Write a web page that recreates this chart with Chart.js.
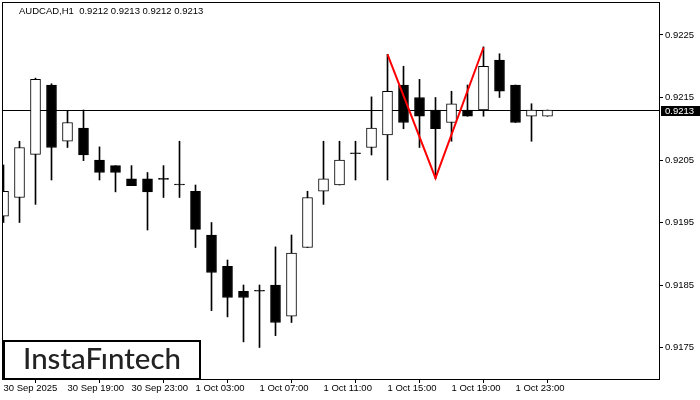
<!DOCTYPE html>
<html>
<head>
<meta charset="utf-8">
<script src="https://cdn.jsdelivr.net/npm/chart.js@4.4.1/dist/chart.umd.min.js"></script>
<style>
html, body { margin: 0; padding: 0; background: #fff; }
canvas { display: block; }
</style>
</head>
<body>
<canvas id="chart" width="700" height="400"></canvas>
<script>
// AUDCAD H1, one bar per hour starting 30 Sep 15:00
var opens  = [0.91960, 0.91990, 0.92059, 0.92170, 0.92080, 0.92101, 0.92050, 0.92041, 0.92020, 0.92020,
              0.92019, 0.92010, 0.92000, 0.91930, 0.91880, 0.91840, 0.91840, 0.91850, 0.91800, 0.91910,
              0.92000, 0.92010, 0.92060, 0.92070, 0.92090, 0.92170, 0.92150, 0.92130, 0.92110, 0.92130,
              0.92130, 0.92210, 0.92170, 0.92120, 0.92120];
var highs  = [0.92042, 0.92080, 0.92181, 0.92172, 0.92129, 0.92130, 0.92071, 0.92041, 0.92041, 0.92030,
              0.92041, 0.92080, 0.92010, 0.91950, 0.91890, 0.91850, 0.91850, 0.91911, 0.91930, 0.92000,
              0.92080, 0.92080, 0.92080, 0.92151, 0.92219, 0.92200, 0.92179, 0.92150, 0.92160, 0.92170,
              0.92231, 0.92220, 0.92170, 0.92140, 0.92130];
var lows   = [0.91950, 0.91950, 0.91979, 0.92018, 0.92070, 0.92049, 0.92018, 0.91999, 0.92009, 0.91938,
              0.91990, 0.91990, 0.91910, 0.91809, 0.91799, 0.91759, 0.91750, 0.91769, 0.91790, 0.91910,
              0.91979, 0.92010, 0.92018, 0.92058, 0.92018, 0.92100, 0.92070, 0.92020, 0.92080, 0.92120,
              0.92120, 0.92150, 0.92110, 0.92080, 0.92120];
var closes = [0.92000, 0.92070, 0.92179, 0.92070, 0.92110, 0.92058, 0.92030, 0.92030, 0.92009, 0.91999,
              0.92019, 0.92010, 0.91939, 0.91870, 0.91830, 0.91830, 0.91840, 0.91790, 0.91901, 0.91990,
              0.92020, 0.92050, 0.92060, 0.92101, 0.92160, 0.92110, 0.92120, 0.92100, 0.92140, 0.92120,
              0.92200, 0.92160, 0.92110, 0.92130, 0.92130];

var xTickIndex  = [0, 4, 8, 12, 16, 20, 24, 28, 32];
var xTickLabels = ['30 Sep 2025', '30 Sep 19:00', '30 Sep 23:00', '1 Oct 03:00', '1 Oct 07:00',
                   '1 Oct 11:00', '1 Oct 15:00', '1 Oct 19:00', '1 Oct 23:00'];
var yTicks = [0.9175, 0.9185, 0.9195, 0.9205, 0.9215, 0.9225];

// double top (red zig-zag)
var patternIndex = [24, 27, 30];
var patternPrice = [0.92219, 0.92021, 0.92230];

var symbol = 'AUDCAD,H1';
var priceLine = 0.9213;

var xMin = -0.09375, xMax = 41.03125;
var yMin = 0.916996, yMax = 0.923028;
var tickFont = { family: '"Liberation Sans", Arial, sans-serif', size: 9.5 };

var last = closes.length - 1;

// price line behind the candles
var priceLinePlugin = {
    id: 'priceLine',
    beforeDatasetsDraw: function(chart) {
        var ctx = chart.ctx;
        var a = chart.chartArea;
        var yp = Math.round(chart.scales.y.getPixelForValue(priceLine)) + 0.5;
        ctx.save();
        ctx.strokeStyle = '#000';
        ctx.lineWidth = 1;
        ctx.beginPath();
        ctx.moveTo(a.left, yp);
        ctx.lineTo(a.right, yp);
        ctx.stroke();
        ctx.restore();
    }
};

// frame, header, logo and the price label
var overlay = {
    id: 'overlay',
    afterDraw: function(chart) {
        var ctx = chart.ctx;
        var a = chart.chartArea;
        ctx.save();

        ctx.strokeStyle = '#000';
        ctx.lineWidth = 1;
        ctx.strokeRect(a.left + 0.5, a.top + 0.5, a.right - a.left - 1, a.bottom - a.top);

        ctx.fillStyle = '#000';
        ctx.font = '9.5px "Liberation Sans", Arial, sans-serif';
        ctx.textBaseline = 'alphabetic';
        ctx.textAlign = 'left';
        var ohlc = [opens[last], highs[last], lows[last], closes[last]].map(function(v) { return v.toFixed(4); });
        ctx.fillText(symbol + '  ' + ohlc.join(' '), 19, 14);

        // logo box
        ctx.fillStyle = '#fff';
        ctx.fillRect(3, 340, 198, 39);
        ctx.lineWidth = 2;
        ctx.strokeRect(4, 341, 196, 38);
        ctx.fillStyle = '#222';
        ctx.font = '500 28px Lato, sans-serif';
        var w = ctx.measureText('InstaFıntech').width;
        var size = 28 * 158 / w;
        ctx.font = '500 ' + size.toFixed(2) + 'px Lato, sans-serif';
        ctx.fillText('InstaFıntech', 23, 369);

        // current price label
        var yp = Math.round(chart.scales.y.getPixelForValue(closes[last]));
        ctx.fillStyle = '#000';
        ctx.fillRect(661, yp - 4, 39, 10);
        ctx.fillStyle = '#fff';
        ctx.font = '9.5px "Liberation Sans", Arial, sans-serif';
        ctx.textBaseline = 'middle';
        ctx.fillText(closes[last].toFixed(4), 665, yp + 1);

        ctx.restore();
    }
};

var wickData = opens.map(function(o, i) { return { x: i, y: [lows[i], highs[i]] }; });
var bodyData = opens.map(function(o, i) { return { x: i, y: [opens[i], closes[i]] }; });
// bull = white, bear and doji = black
var bodyColors = opens.map(function(o, i) { return closes[i] > opens[i] ? '#fff' : '#000'; });

var ctx = document.getElementById('chart').getContext('2d');
var chart = new Chart(ctx, {
    type: 'bar',
    data: {
        datasets: [
            {
                data: wickData,
                backgroundColor: '#000',
                barThickness: 1,
                grouped: false,
                order: 3
            },
            {
                data: bodyData,
                backgroundColor: bodyColors,
                borderColor: '#000',
                borderWidth: 1,
                borderSkipped: false,
                barThickness: 10,
                minBarLength: 1,
                grouped: false,
                order: 2
            },
            {
                type: 'line',
                data: patternIndex.map(function(x, k) { return { x: x, y: patternPrice[k] }; }),
                borderColor: '#ff0000',
                borderWidth: 2,
                pointRadius: 0,
                order: 0
            }
        ]
    },
    options: {
        responsive: false,
        animation: false,
        layout: { padding: { left: 2, top: 2, right: 0, bottom: 0 } },
        plugins: {
            legend: { display: false },
            tooltip: { enabled: false }
        },
        scales: {
            x: {
                type: 'linear',
                min: xMin,
                max: xMax,
                offset: false,
                border: { display: false },
                grid: { display: true, drawOnChartArea: false, drawTicks: true, tickLength: 4, color: '#000' },
                ticks: {
                    autoSkip: false,
                    maxRotation: 0,
                    align: 'start',
                    padding: 0,
                    color: '#000',
                    font: tickFont,
                    callback: function(v) {
                        var k = xTickIndex.indexOf(v);
                        return k >= 0 ? xTickLabels[k] : '';
                    }
                },
                afterBuildTicks: function(axis) {
                    axis.ticks = xTickIndex.map(function(v) { return { value: v }; });
                },
                afterFit: function(axis) {
                    axis.height = 21;
                    axis.paddingLeft = 0;
                    axis.paddingRight = 0;
                }
            },
            y: {
                type: 'linear',
                position: 'right',
                min: yMin,
                max: yMax,
                border: { display: false },
                grid: { display: true, drawOnChartArea: false, drawTicks: true, tickLength: 3, color: '#000' },
                ticks: {
                    padding: 2,
                    color: '#000',
                    font: tickFont,
                    callback: function(v) { return v.toFixed(4); }
                },
                afterBuildTicks: function(axis) {
                    axis.ticks = yTicks.map(function(v) { return { value: v }; });
                },
                afterFit: function(axis) {
                    axis.width = 40;
                    axis.paddingTop = 0;
                    axis.paddingBottom = 0;
                }
            }
        }
    },
    plugins: [priceLinePlugin, overlay]
});
</script>
</body>
</html>
